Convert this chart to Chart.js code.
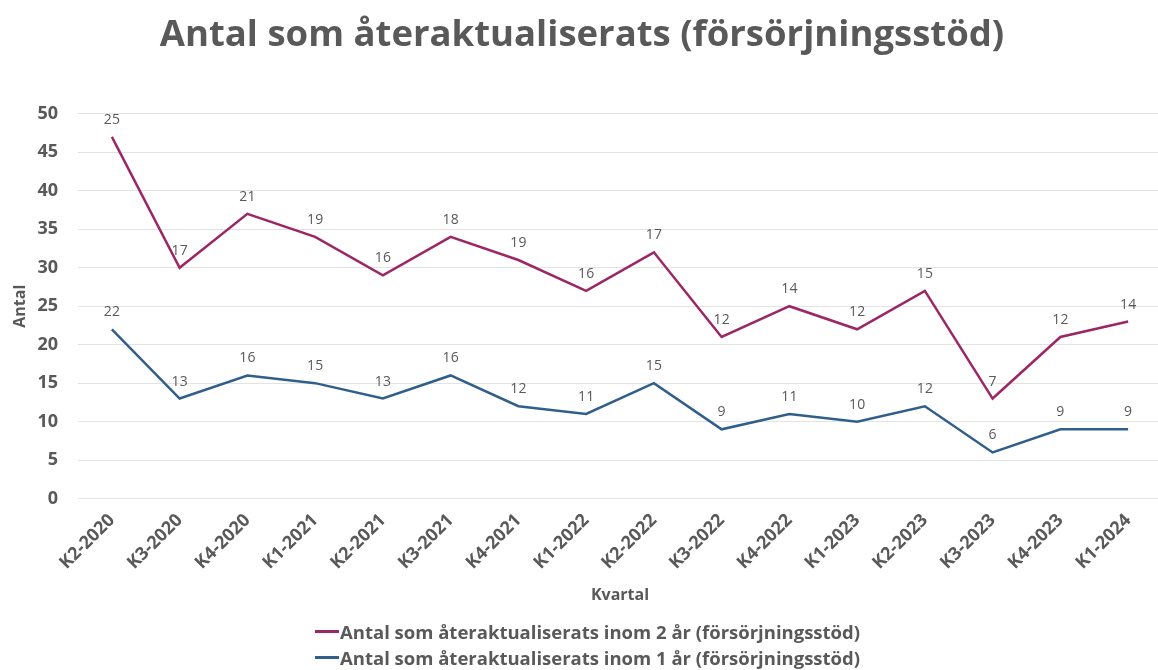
<!DOCTYPE html>
<html>
<head>
<meta charset="utf-8">
<script src="https://cdn.jsdelivr.net/npm/chart.js@4"></script>
<style>
  html, body { margin: 0; padding: 0; background: #fff; overflow: hidden; }
  #wrap { position: relative; width: 1164px; height: 670px; }
  #legend { position: absolute; left: 315px; top: 618px; font-family: "Open Sans", sans-serif; font-weight: bold; font-size: 18.5px; color: #595959; }
  #legend .row { display: flex; align-items: center; height: 26px; }
  #legend .mark { width: 24px; height: 3px; margin-right: 1px; }
</style>
</head>
<body>
<div id="wrap">
  <canvas id="c" width="1164" height="670"></canvas>
  <div id="legend"></div>
</div>
<script>
const categories = ["K2-2020","K3-2020","K4-2020","K1-2021","K2-2021","K3-2021","K4-2021","K1-2022","K2-2022","K3-2022","K4-2022","K1-2023","K2-2023","K3-2023","K4-2023","K1-2024"];
const inom1ar = [22,13,16,15,13,16,12,11,15,9,11,10,12,6,9,9];
const inom2ar = [25,17,21,19,16,18,19,16,17,12,14,12,15,7,12,14];
const label1 = "Antal som återaktualiserats inom 1 år (försörjningsstöd)";
const label2 = "Antal som återaktualiserats inom 2 år (försörjningsstöd)";
const color1 = "#2F5F8A";
const color2 = "#9C2765";
const titleText = "Antal som återaktualiserats (försörjningsstöd)";
const grey = "#595959";
const FONT = '"Open Sans", sans-serif';

const dataLabels = {
  id: 'dataLabels',
  afterDatasetsDraw(chart) {
    const ctx = chart.ctx;
    ctx.save();
    ctx.font = '14px ' + FONT;
    ctx.fillStyle = grey;
    ctx.textAlign = 'center';
    ctx.textBaseline = 'middle';
    chart.data.datasets.forEach((ds, i) => {
      const meta = chart.getDatasetMeta(i);
      meta.data.forEach((pt, j) => {
        ctx.fillText(String(ds.data[j]), pt.x, pt.y - 17);
      });
    });
    ctx.restore();
  }
};

const chart = new Chart(document.getElementById('c'), {
  type: 'line',
  data: {
    labels: categories,
    datasets: [
      { label: label1, data: inom1ar, borderColor: color1, backgroundColor: color1, borderWidth: 2.5, pointRadius: 0, tension: 0, fill: false },
      { label: label2, data: inom2ar, borderColor: color2, backgroundColor: color2, borderWidth: 2.5, pointRadius: 0, tension: 0, fill: false }
    ]
  },
  options: {
    responsive: false,
    animation: false,
    layout: { autoPadding: false, padding: { left: 2, right: 2, top: 0, bottom: 61 } },
    plugins: {
      legend: { display: false },
      tooltip: { enabled: false },
      title: {
        display: true,
        text: titleText,
        color: grey,
        font: { family: FONT, size: 36.5, weight: 'bold' },
        padding: { top: 14, bottom: 56 }
      }
    },
    scales: {
      x: {
        offset: true,
        grid: { display: false },
        border: { display: false },
        afterFit(scale) { scale.paddingLeft = 0; },
        ticks: {
          color: grey,
          font: { family: FONT, size: 18, weight: 'bold' },
          minRotation: 45, maxRotation: 45, padding: 3, autoSkip: false
        },
        title: {
          display: true, text: 'Kvartal', color: grey,
          font: { family: FONT, size: 16, weight: 'bold' },
          padding: { top: 9 }
        }
      },
      y: {
        stacked: true,
        min: 0, max: 50,
        afterFit(scale) { scale.width = 76; },
        grid: { color: '#E3E3E3', drawTicks: false, lineWidth: 1 },
        border: { display: false },
        ticks: {
          stepSize: 5, color: grey, padding: 20,
          font: { family: FONT, size: 18, weight: 'bold' }
        },
        title: {
          display: true, text: 'Antal', color: grey,
          font: { family: FONT, size: 16, weight: 'bold' },
          padding: { top: 9, bottom: 6 }
        }
      }
    }
  },
  plugins: [dataLabels]
});

// legend (top series listed first, as in the original)
const legend = document.getElementById('legend');
[[label2, color2], [label1, color1]].forEach(([t, c]) => {
  const row = document.createElement('div');
  row.className = 'row';
  const m = document.createElement('span');
  m.className = 'mark';
  m.style.background = c;
  const s = document.createElement('span');
  s.textContent = t;
  row.appendChild(m);
  row.appendChild(s);
  legend.appendChild(row);
});
</script>
</body>
</html>
